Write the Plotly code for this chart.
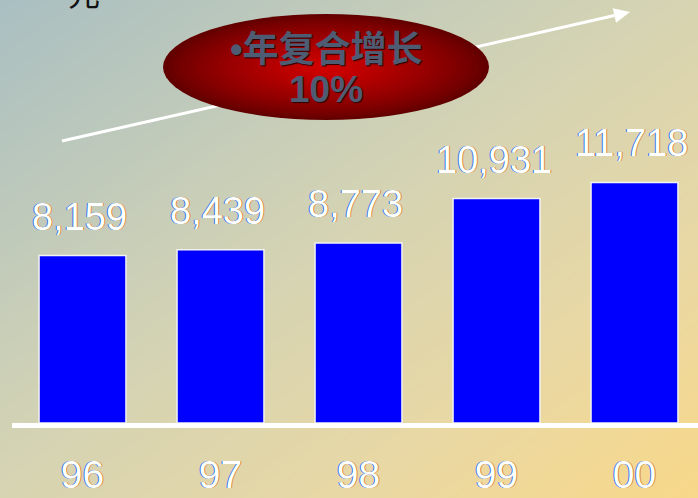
import numpy as np
import plotly.graph_objects as go

# Revenue by year (two-digit year labels) and headline growth
years = ["96", "97", "98", "99", "00"]
revenue = [8159, 8439, 8773, 10931, 11718]
value_labels = ["8,159", "8,439", "8,773", "10,931", "11,718"]
growth_title = "年复合增长"
growth_value = "10%"
unit_label = "元"

W, H = 698, 498


def px(x):
    return x / W


def py(y):
    return 1 - y / H


fig = go.Figure()

# Diagonal background wash: blue-grey top-left to warm yellow bottom-right
gx = np.linspace(0, 1, 11)
gy = np.linspace(0, 1, 11)
gz = [[(xx + (1 - yy)) / 2 for xx in gx] for yy in gy]
fig.add_trace(go.Heatmap(
    x=gx, y=gy, z=gz, zsmooth="best", showscale=False, hoverinfo="skip",
    colorscale=[[0, "#a9bfc2"], [0.45, "#d3d3b4"], [0.75, "#e9d8a4"], [1, "#f8d889"]],
    xaxis="x", yaxis="y",
))

# Revenue bars
fig.add_trace(go.Bar(
    x=years, y=revenue, width=0.63,
    marker=dict(color="#0000ff", line=dict(color="#f2f2f2", width=1.5)),
    xaxis="x2", yaxis="y2", hoverinfo="skip",
))

fringe = "-1px 0px 0px #2f6fd6, 1px 0px 0px #d9893a"
label_font = dict(family="Liberation Sans, Arial", size=38, color="white", shadow=fringe)

annotations = []
for i, (val, lab) in enumerate(zip(revenue, value_labels)):
    annotations.append(dict(
        x=i, y=val, xref="x2", yref="y2", text=lab, showarrow=False,
        yanchor="middle", yshift=39, xshift=-3, font=label_font,
    ))

# Growth arrow (drawn first so the badge sits over it)
shapes = []
x0, y0, tx, ty = 62, 141, 630, 12
dx, dy = tx - x0, ty - y0
L = (dx ** 2 + dy ** 2) ** 0.5
ux, uy = dx / L, dy / L
nx, ny = -uy, ux
head_len, head_w = 16, 7.5
bx, by = tx - head_len * ux, ty - head_len * uy
shapes.append(dict(type="line", xref="paper", yref="paper",
                   x0=px(x0), y0=py(y0), x1=px(bx), y1=py(by),
                   line=dict(color="white", width=3), layer="above"))
p1 = (bx + head_w * nx, by + head_w * ny)
p2 = (bx - head_w * nx, by - head_w * ny)
shapes.append(dict(type="path", xref="paper", yref="paper",
                   path=f"M {px(tx)} {py(ty)} L {px(p1[0])} {py(p1[1])} L {px(p2[0])} {py(p2[1])} Z",
                   fillcolor="white", line=dict(width=0), layer="above"))

# Growth badge: concentric ellipses build a radial red glow
cx, cy, rx, ry = 326, 67, 163, 53
steps = 30
for i in range(steps):
    k = 1 - i / steps
    t = (1 - k) ** 0.8
    r = int(98 + 117 * t)
    shapes.append(dict(type="circle", xref="paper", yref="paper",
                       x0=px(cx - rx * k), x1=px(cx + rx * k),
                       y0=py(cy + ry * k), y1=py(cy - ry * k),
                       fillcolor=f"rgb({r},0,0)", line=dict(width=0), layer="above"))

badge_shadow = "1px 1px 1px #2a0000"
title_html = ("<span style=\"font-family:'Liberation Sans'\">•</span>" + growth_title)
annotations.append(dict(x=px(326), y=py(46), xref="paper", yref="paper",
                        text=title_html, showarrow=False, yanchor="middle",
                        font=dict(family="Noto Sans CJK SC", size=36, color="#4d5c72",
                                  weight="bold", shadow=badge_shadow)))
annotations.append(dict(x=px(326), y=py(89), xref="paper", yref="paper",
                        text=growth_value, showarrow=False, yanchor="middle",
                        font=dict(family="Liberation Sans, Arial", size=37, color="#4d5c72",
                                  weight="bold", shadow=badge_shadow)))
annotations.append(dict(x=px(66), y=py(-8), xref="paper", yref="paper",
                        text=unit_label, showarrow=False, yanchor="middle",
                        font=dict(family="Noto Sans CJK SC", size=32, color="#111111")))

base_px = 423
scale = 167.5 / 8159
y_top = base_px / scale
x_left = -0.5 - 1.5 / 138
x_right = x_left + (W - 12) / 138

fig.update_layout(
    width=W, height=H, margin=dict(l=0, r=0, t=0, b=0, autoexpand=False),
    paper_bgcolor="#d3d3b4", plot_bgcolor="rgba(0,0,0,0)",
    showlegend=False,
    xaxis=dict(domain=[0, 1], range=[0, 1], visible=False, fixedrange=True, automargin=False),
    yaxis=dict(domain=[0, 1], range=[0, 1], visible=False, fixedrange=True, automargin=False),
    xaxis2=dict(domain=[12 / W, 1], range=[x_left, x_right], anchor="y2",
                type="category", automargin=False,
                showline=True, linecolor="white", linewidth=5, showgrid=False,
                zeroline=False, ticks="", ticklabelstandoff=13,
                tickfont=dict(family="Liberation Sans, Arial", size=39, color="white", shadow=fringe)),
    yaxis2=dict(domain=[(H - base_px) / H, 1], range=[0, y_top], anchor="x2",
                visible=False, automargin=False),
    shapes=shapes,
    annotations=annotations,
)

fig.write_html("out.html")
